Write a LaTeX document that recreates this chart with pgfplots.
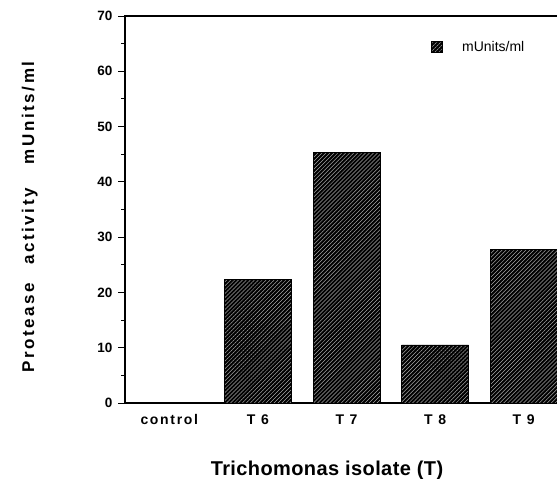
\documentclass[border=0pt]{standalone}
\usepackage{fontspec}
\setmainfont{Liberation Sans}
\newfontfamily\spacedxt[LetterSpace=12]{Liberation Sans}
\newfontfamily\spacedyl[LetterSpace=15]{Liberation Sans}
\newfontfamily\spacedxl[LetterSpace=2]{Liberation Sans}
\usepackage{pgfplots}
\pgfplotsset{compat=1.18}
\usetikzlibrary{patterns.meta}

\pgfplotstableread{
x  val
0  0
1  22.4
2  45.4
3  10.5
4  27.7
}\protease

\begin{document}
\begin{tikzpicture}
\begin{axis}[
  at={(125bp,76bp)}, anchor=south west,
  scale only axis, width=443bp, height=387bp,
  xmin=-0.5, xmax=4.5, ymin=0, ymax=70,
  ybar, bar width=67bp,
  axis line style={line width=1.5bp},
  tick align=outside, ytick pos=left, xtick pos=bottom,
  ytick={0,10,...,70}, minor y tick num=1,
  major tick length=7bp, minor tick length=4bp,
  tick style={black, line width=1bp},
  xtick={0,...,4},
  xticklabels={control, T 6, T 7, T 8, T 9},
  xtick style={draw=none},
  extra x ticks={0.5,1.5,2.5,3.5},
  extra x tick labels={},
  extra x tick style={tick style={draw=black, line width=1.2bp}, major tick length=4bp},
  yticklabel style={font=\fontsize{13.5bp}{15bp}\selectfont\bfseries, xshift=-2bp},
  xticklabel style={font=\fontsize{14bp}{16bp}\spacedxt\bfseries, yshift=-1bp},
  /pgf/number format/assume math mode=true,
  xlabel={Trichomonas isolate (T)},
  xlabel style={font=\fontsize{20bp}{22bp}\spacedxl\bfseries, at={(axis description cs:0.456,-0.187)}, anchor=base},
  ylabel={Protease\hspace{18bp}activity\hspace{24bp}mUnits/ml},
  ylabel style={font=\fontsize{17bp}{19bp}\spacedyl\bfseries, at={(axis description cs:-0.205,0.481)}, anchor=base, rotate=0},
  legend style={draw=none, fill=none, at={(axis description cs:0.691,0.92)}, anchor=west,
    inner sep=0pt, font=\fontsize{14bp}{16bp}\selectfont,
    /tikz/every odd column/.style={column sep=17bp}},
  legend image code/.code={\draw[#1] (0bp,-5.5bp) rectangle (11bp,5.5bp);},
]
\addplot[draw=black, line width=0.8bp, fill=black,
  postaction={pattern={Lines[angle=45,distance=2.8bp,line width=0.5bp]}, pattern color=gray!70}]
  table[x=x, y=val] {\protease};
\addlegendentry{mUnits/ml}
\end{axis}
\pgfresetboundingbox
\useasboundingbox (0,0) rectangle (557bp,479bp);
\end{tikzpicture}
\end{document}
